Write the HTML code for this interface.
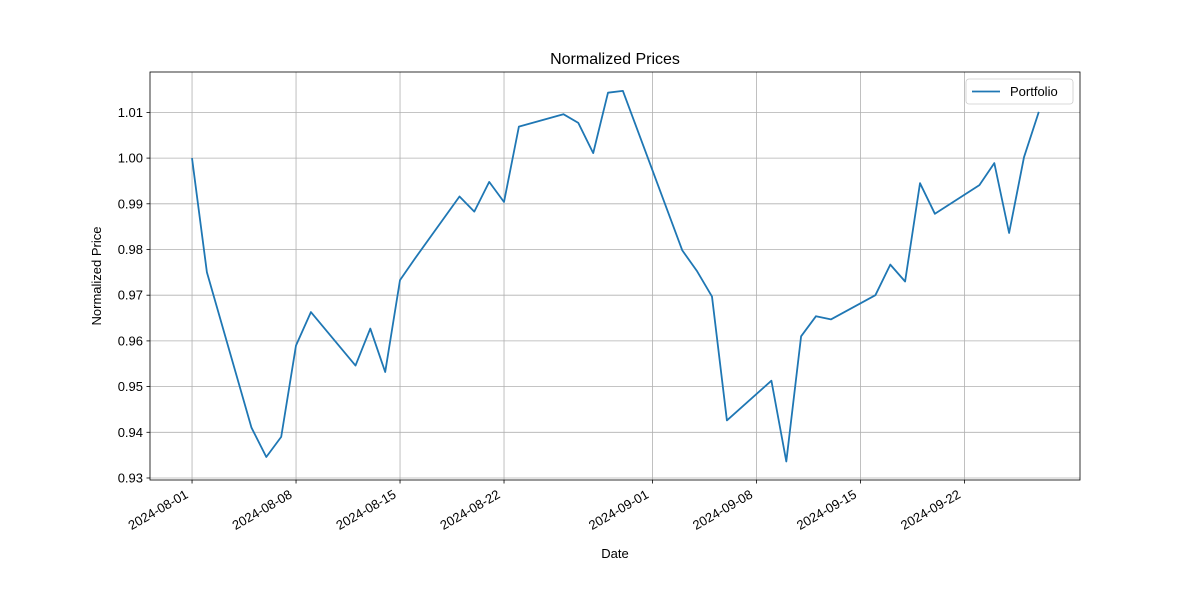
<!DOCTYPE html>
<html><head><meta charset="utf-8"><style>
body{margin:0;background:#fff;font-family:"Liberation Sans","DejaVu Sans",sans-serif}
</style></head><body>
<svg id="chart" width="1200" height="600" xmlns="http://www.w3.org/2000/svg"></svg>
<script>
const dayOffsets=[0,1,4,5,6,7,8,11,12,13,14,15,18,19,20,21,22,25,26,27,28,29,33,34,35,36,39,40,41,42,43,46,47,48,49,50,53,54,55,56,57];
const portfolioValues=[1.000,0.975,0.941,0.9346,0.939,0.959,0.9663,0.9546,0.9627,0.9532,0.9733,0.978,0.9916,0.9883,0.9948,0.9904,1.0069,1.0096,1.0077,1.0011,1.0143,1.0147,0.9798,0.9752,0.9697,0.9426,0.9513,0.9336,0.961,0.9654,0.9647,0.970,0.9767,0.973,0.9945,0.9878,0.9941,0.9989,0.9836,1.0002,1.0101];
const xTickDays=[0,7,14,21,31,38,45,52];
const xTickLabels=["2024-08-01","2024-08-08","2024-08-15","2024-08-22","2024-09-01","2024-09-08","2024-09-15","2024-09-22"];
const yTicks=[0.93,0.94,0.95,0.96,0.97,0.98,0.99,1.00,1.01];

const L=150,R=1080,T=72,B=480;
const dMin=-2.83,dMax=59.77,yMin=0.92956,yMax=1.01884;
const xs=d=>L+(d-dMin)/(dMax-dMin)*(R-L);
const ys=v=>B-(v-yMin)/(yMax-yMin)*(B-T);
const svg=document.getElementById('chart');
const NS="http://www.w3.org/2000/svg";
function mk(tag,attrs,text){const e=document.createElementNS(NS,tag);for(const k in attrs)e.setAttribute(k,attrs[k]);if(text!==undefined)e.textContent=text;svg.appendChild(e);return e;}

xTickDays.forEach((d,i)=>{
  const x=xs(d);
  const g=mk('line',{x1:x,x2:x,y1:T,y2:B,stroke:'#b0b0b0','stroke-width':0.8});
  
  
  const t=mk('line',{x1:x,x2:x,y1:B,y2:B+3.5,stroke:'#000','stroke-width':0.8});
  
  
  const lx=x-3,ly=B+17;
  const lb=mk('text',{x:lx,y:ly,'font-size':13,'text-anchor':'end',transform:`rotate(-30 ${lx} ${ly})`},xTickLabels[i]);
  
  
});
yTicks.forEach(v=>{
  const y=ys(v);
  const g=mk('line',{x1:L,x2:R,y1:y,y2:y,stroke:'#b0b0b0','stroke-width':0.8});
  
  
  const t=mk('line',{x1:L-3.5,x2:L,y1:y,y2:y,stroke:'#000','stroke-width':0.8});
  
  
  const lb=mk('text',{x:L-7,y:y+4.5,'font-size':13,'text-anchor':'end'},v.toFixed(2));
  
  
});
const pts=dayOffsets.map((d,i)=>xs(d).toFixed(1)+','+ys(portfolioValues[i]).toFixed(1)).join(' ');
const line=mk('polyline',{points:pts,fill:'none',stroke:'#1f77b4','stroke-width':1.8,'stroke-linejoin':'round'});


const frame=mk('rect',{x:L,y:T,width:R-L,height:B-T,fill:'none',stroke:'#000','stroke-width':0.8});


const title=mk('text',{x:(L+R)/2,y:64,'font-size':16,'text-anchor':'middle'},'Normalized Prices');


const xt=mk('text',{x:(L+R)/2,y:558,'font-size':13,'text-anchor':'middle'},'Date');


const yt=mk('text',{x:101,y:276,'font-size':13,'text-anchor':'middle',transform:'rotate(-90 101 276)'},'Normalized Price');


const lg=mk('rect',{x:966,y:79,width:107,height:25,rx:3,fill:'#fff','fill-opacity':0.8,stroke:'#ccc','stroke-width':0.8});


const ll=mk('line',{x1:972,x2:1000,y1:91.5,y2:91.5,stroke:'#1f77b4','stroke-width':1.8});


const lt=mk('text',{x:1010,y:96,'font-size':13},'Portfolio');


</script>
</body></html>
